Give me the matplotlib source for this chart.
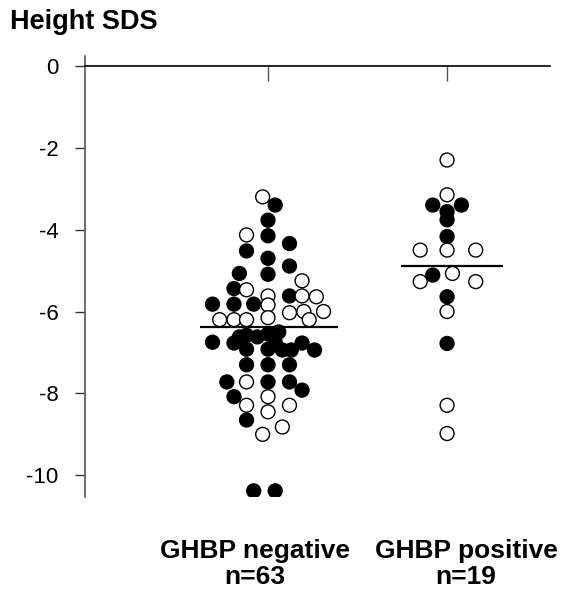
import numpy as np
import matplotlib
matplotlib.use("Agg")
import matplotlib.pyplot as plt

plt.rcParams['font.family'] = ['Liberation Sans', 'DejaVu Sans']

# Height SDS per patient, GHBP negative group (n=63)
neg_sds = [-3.20, -3.40, -3.77, -4.13, -4.15, -4.34, -4.52, -4.70, -4.89, -5.07,
           -5.09, -5.25, -5.44, -5.47, -5.62, -5.62, -5.62, -5.64, -5.82, -5.82,
           -5.82, -5.84, -6.03, -6.00, -6.00, -6.20, -6.20, -6.20, -6.15, -6.20,
           -6.75, -6.77, -6.58, -6.62, -6.55, -6.50, -6.77, -6.62, -6.75, -6.92,
           -6.92, -6.94, -6.94, -6.94, -7.30, -7.30, -7.30, -7.72, -7.72, -7.72,
           -7.72, -7.92, -8.08, -8.08, -8.29, -8.29, -8.45, -8.65, -8.82, -9.00,
           -10.38, -10.38]
# horizontal jitter of each dot within its column
neg_jitter = [-0.03, 0.04, 0.00, -0.12, 0.00, 0.12, -0.12, 0.00, 0.12, -0.16,
              0.00, 0.19, -0.19, -0.12, 0.00, 0.12, 0.19, 0.27, -0.31, -0.19,
              -0.08, 0.00, 0.12, 0.20, 0.31, -0.27, -0.19, -0.12, 0.00, 0.23,
              -0.31, -0.19, -0.12, -0.06, 0.00, 0.06, 0.19, -0.16, 0.04, -0.12,
              0.00, 0.08, 0.13, 0.26, -0.12, 0.00, 0.12, -0.23, -0.12, 0.00,
              0.12, 0.19, -0.19, 0.00, -0.12, 0.12, 0.00, -0.12, 0.08, -0.03,
              -0.08, 0.04]
neg_filled = [0, 1, 1, 0, 1, 1, 1, 1, 1, 1,
              1, 0, 1, 0, 0, 1, 0, 0, 1, 1,
              1, 0, 0, 0, 0, 0, 0, 0, 0, 0,
              1, 1, 1, 1, 1, 1, 1, 1, 1, 1,
              1, 1, 1, 1, 1, 1, 1, 1, 0, 1,
              1, 1, 1, 0, 0, 0, 0, 1, 0, 0,
              1, 1]

# GHBP positive group (n=19)
pos_sds = [-2.30, -3.15, -3.40, -3.40, -3.56, -3.76, -4.17, -4.50, -4.50, -4.50,
           -5.11, -5.27, -5.07, -5.27, -5.64, -6.00, -6.78, -8.29, -8.98]
pos_jitter = [0.00, 0.00, -0.08, 0.08, 0.00, 0.00, 0.00, -0.15, 0.00, 0.16,
              -0.08, -0.15, 0.03, 0.16, 0.00, 0.00, 0.00, 0.00, 0.00]
pos_filled = [0, 0, 1, 1, 1, 1, 1, 0, 0, 0,
              1, 0, 0, 0, 1, 0, 1, 0, 0]

group_means = [-6.39, -4.89]
group_labels = ['GHBP negative\nn=63', 'GHBP positive\nn=19']
yticks = [0, -2, -4, -6, -8, -10]

fig = plt.figure(figsize=(5.66, 5.89), dpi=100)
ax = fig.add_axes([0.1502, 0.1562, 0.8216, 0.7487])

def draw_group(ax, center, sds, jitter, filled):
    x = center + np.array(jitter)
    fc = ['black' if f else 'white' for f in filled]
    ax.scatter(x, sds, s=100, facecolors=fc, edgecolors='black',
               linewidths=1.0, zorder=3)

draw_group(ax, 1, neg_sds, neg_jitter, neg_filled)
draw_group(ax, 2, pos_sds, pos_jitter, pos_filled)

# mean bars
ax.hlines(group_means[0], 0.62, 1.39, color='black', lw=1.6, zorder=4)
ax.hlines(group_means[1], 1.74, 2.31, color='black', lw=1.6, zorder=4)

ax.set_xlim(-0.022, 2.575)
ax.set_ylim(-10.53, 0.24)

for s in ['right', 'bottom']:
    ax.spines[s].set_visible(False)
ax.spines['left'].set_color('#555555')
ax.spines['left'].set_linewidth(1.2)
ax.spines['top'].set_position(('data', 0))
ax.spines['top'].set_linewidth(1.2)

ax.set_yticks(yticks)
ax.set_yticklabels([str(t) for t in yticks], fontsize=16)
ax.tick_params(axis='y', direction='out', length=7, width=1.0, pad=12,
               color='#333333')

ax.xaxis.set_ticks_position('top')
ax.set_xticks([1, 2])
ax.set_xticklabels(['', ''])
ax.tick_params(axis='x', direction='in', length=11, width=1.0, color='#555555')

fig.text(10 / 566, 1 - 22 / 589, 'Height SDS', fontsize=19.5, fontweight='bold',
         ha='left', va='center')

label_x = [255 / 566, 466 / 566]
for lx, lab in zip(label_x, group_labels):
    fig.text(lx, 1 - 564 / 589, lab, fontsize=19, fontweight='bold',
             ha='center', va='center', linespacing=1.1)

fig.savefig('out.png', dpi=100)
